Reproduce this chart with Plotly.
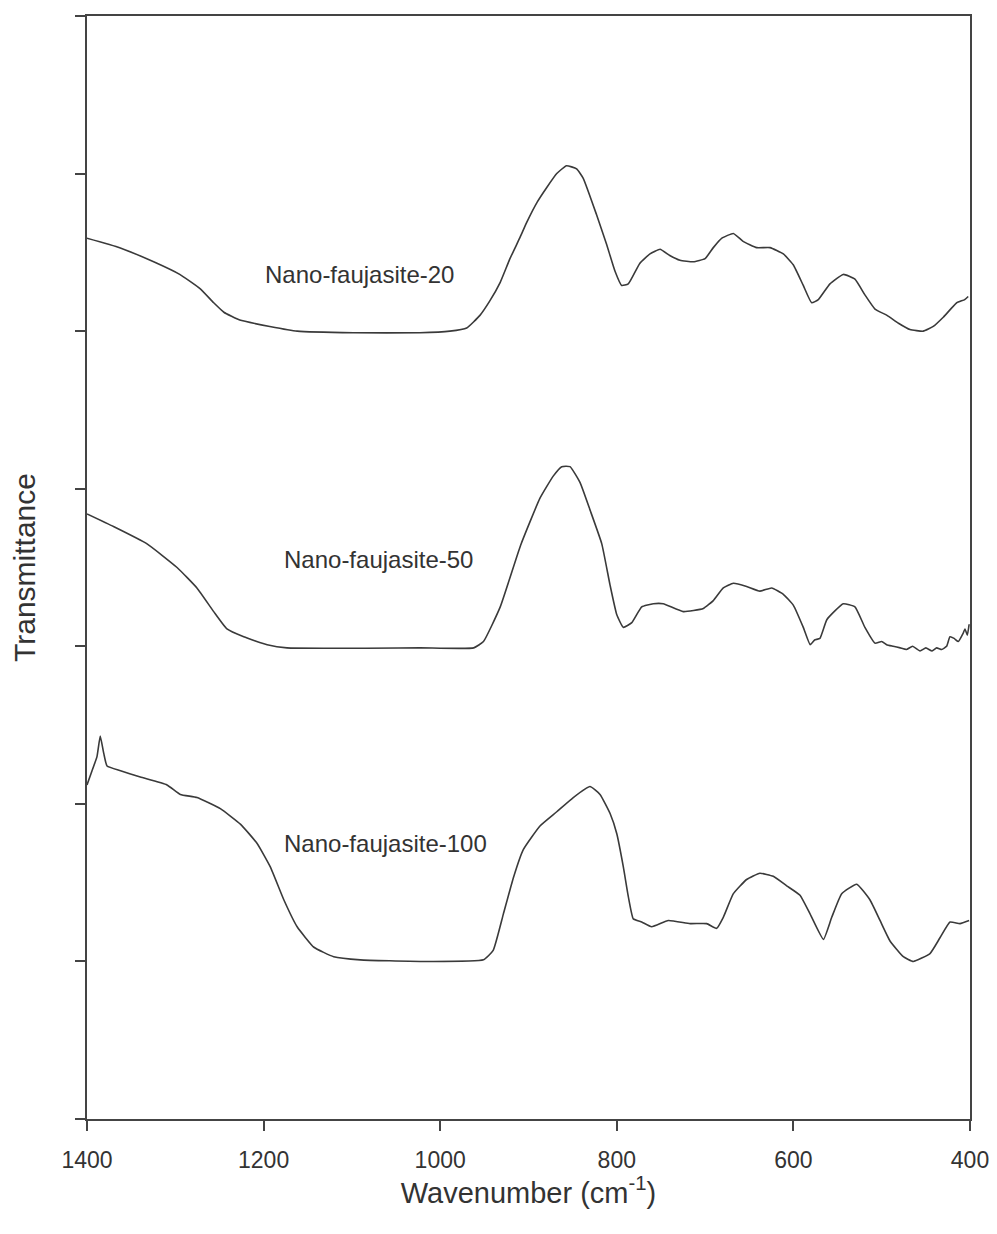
import plotly.graph_objects as go

# Nano-faujasite-20
wn20 = [1400, 1363, 1324.5, 1295, 1272, 1256.5, 1245, 1227, 1193, 1162, 1098, 1023, 989, 970, 955, 944,
        932, 921, 910, 902, 890, 879.5, 868, 857, 845.5, 838, 823, 811.5, 802, 794.5, 787, 774, 762.4,
        751, 740, 728.4, 713.4, 700, 690.7, 681, 668, 657, 641.6, 626.5, 611.4, 600, 588.8, 579.3,
        571.8, 558.6, 543.5, 530.3, 519, 507.6, 494, 481, 468, 453, 441.6, 430, 415, 406, 402]
t20 = [5.59, 5.53, 5.44, 5.36, 5.27, 5.18, 5.12, 5.07, 5.03, 5.00, 4.99, 4.99, 5.00, 5.02, 5.10, 5.19,
       5.31, 5.46, 5.59, 5.69, 5.82, 5.91, 6.00, 6.05, 6.03, 5.97, 5.74, 5.55, 5.38, 5.29, 5.30, 5.43, 5.49,
       5.52, 5.48, 5.45, 5.44, 5.46, 5.53, 5.59, 5.62, 5.57, 5.53, 5.53, 5.49, 5.42, 5.29, 5.18,
       5.20, 5.30, 5.36, 5.33, 5.23, 5.14, 5.10, 5.05, 5.01, 5.00, 5.03, 5.09, 5.18, 5.20, 5.22]

# Nano-faujasite-50
wn50 = [1400, 1370, 1332, 1298, 1275.5, 1256.5, 1241.5, 1222.5, 1196, 1173.5, 1023, 962, 951, 932, 909,
        887, 872, 862.4, 853, 841.7, 830, 817, 807.7, 800, 792.6, 783, 771.8, 758.7, 747.4, 724.7, 702,
        690.7, 679.4, 668, 653, 638, 624.6, 611.4, 600, 588.8, 581, 576, 570, 562, 543.5, 530.3, 519,
        507.6, 500, 494.4, 487, 479, 472, 465, 456.6, 450, 443, 437.8, 432, 426.5, 422.7, 418, 413.3,
        408, 405.7, 403, 401]
t50 = [3.84, 3.76, 3.65, 3.50, 3.37, 3.22, 3.11, 3.06, 3.01, 2.99, 2.99, 2.99, 3.03, 3.25, 3.64,
       3.94, 4.08, 4.14, 4.14, 4.04, 3.86, 3.65, 3.39, 3.20, 3.12, 3.15, 3.25, 3.27, 3.27, 3.22, 3.24,
       3.29, 3.37, 3.40, 3.38, 3.35, 3.37, 3.33, 3.26, 3.12, 3.01, 3.04, 3.05, 3.17, 3.27, 3.25, 3.12,
       3.02, 3.03, 3.01, 3.00, 2.99, 2.98, 3.00, 2.97, 2.99, 2.97, 2.99, 2.98, 3.00, 3.06, 3.05, 3.03,
       3.08, 3.11, 3.07, 3.14]

# Nano-faujasite-100
wn100 = [1400, 1394.3, 1388.7, 1385, 1381, 1377.3, 1362, 1339.6, 1309.4, 1294.3, 1275.4, 1249, 1226,
         1207.5, 1192.4, 1177, 1162, 1143, 1120.6, 1090.5, 1022.5, 951, 940, 928.5, 917.2, 905.9,
         887, 868, 849.3, 830.4, 819, 807.7, 800, 792.6, 786.9, 781.3, 771.8, 760.5, 741.6, 717,
         698.2, 686.9, 679.4, 668, 653, 638, 622.8, 607.6, 592.5, 581, 566, 556.6, 545.3, 528.3,
         513.2, 501.9, 490.6, 475.5, 464.2, 445.3, 434, 422.6, 411.3, 401]
t100 = [2.12, 2.21, 2.30, 2.43, 2.32, 2.24, 2.21, 2.17, 2.12, 2.06, 2.04, 1.97, 1.87,
        1.75, 1.60, 1.39, 1.22, 1.09, 1.03, 1.01, 1.00, 1.01, 1.07, 1.30, 1.53, 1.71,
        1.86, 1.95, 2.04, 2.11, 2.06, 1.94, 1.81, 1.60, 1.41, 1.27, 1.25, 1.22, 1.26, 1.24,
        1.24, 1.21, 1.28, 1.43, 1.52, 1.56, 1.54, 1.48, 1.42, 1.30, 1.14, 1.28, 1.43, 1.49,
        1.39, 1.26, 1.13, 1.03, 1.00, 1.05, 1.15, 1.25, 1.24, 1.26]

labels = ["Nano-faujasite-20", "Nano-faujasite-50", "Nano-faujasite-100"]
label_x = [1091, 1070, 1062]
label_y = [5.36, 3.55, 1.75]

x_ticks = [1400, 1200, 1000, 800, 600, 400]
y_ticks = [0, 1, 2, 3, 4, 5, 6, 7]

line_col = "#3a3a3a"
fig = go.Figure()
for wx, ty in [(wn20, t20), (wn50, t50), (wn100, t100)]:
    fig.add_trace(go.Scatter(x=wx, y=ty, mode="lines",
                             line=dict(color=line_col, width=1.6, shape="spline", smoothing=0.4),
                             showlegend=False, hoverinfo="skip"))

for lab, lx, ly in zip(labels, label_x, label_y):
    fig.add_annotation(x=lx, y=ly, text=lab, showarrow=False,
                       font=dict(family="Liberation Sans, Arial, sans-serif", size=24, color="#333333"))

axis_col = "#444444"
fig.update_layout(
    width=989, height=1226,
    margin=dict(l=79, r=27, t=6, b=115),
    paper_bgcolor="white", plot_bgcolor="white",
    font=dict(family="Liberation Sans, Arial, sans-serif", color="#333333"),
    xaxis=dict(range=[1400, 400], tickvals=x_ticks, ticks="outside", ticklen=10, tickwidth=1.5,
               tickcolor=axis_col, showline=True, linecolor=axis_col, linewidth=1.8, mirror=True,
               showgrid=False, zeroline=False, tickfont=dict(size=23, color="#333333"),
               ticklabelstandoff=9,
               title=dict(text="Wavenumber (cm<sup>-1</sup>)", font=dict(size=29, color="#333333"),
                          standoff=6)),
    yaxis=dict(range=[0, 7], tickvals=y_ticks, ticks="outside", ticklen=10, tickwidth=1.5,
               tickcolor=axis_col, showline=True, linecolor=axis_col, linewidth=1.8, mirror=True,
               showgrid=False, zeroline=False, showticklabels=False,
               title=dict(text="Transmittance", font=dict(size=30, color="#333333"), standoff=32)),
)

fig.write_html("out.html")
